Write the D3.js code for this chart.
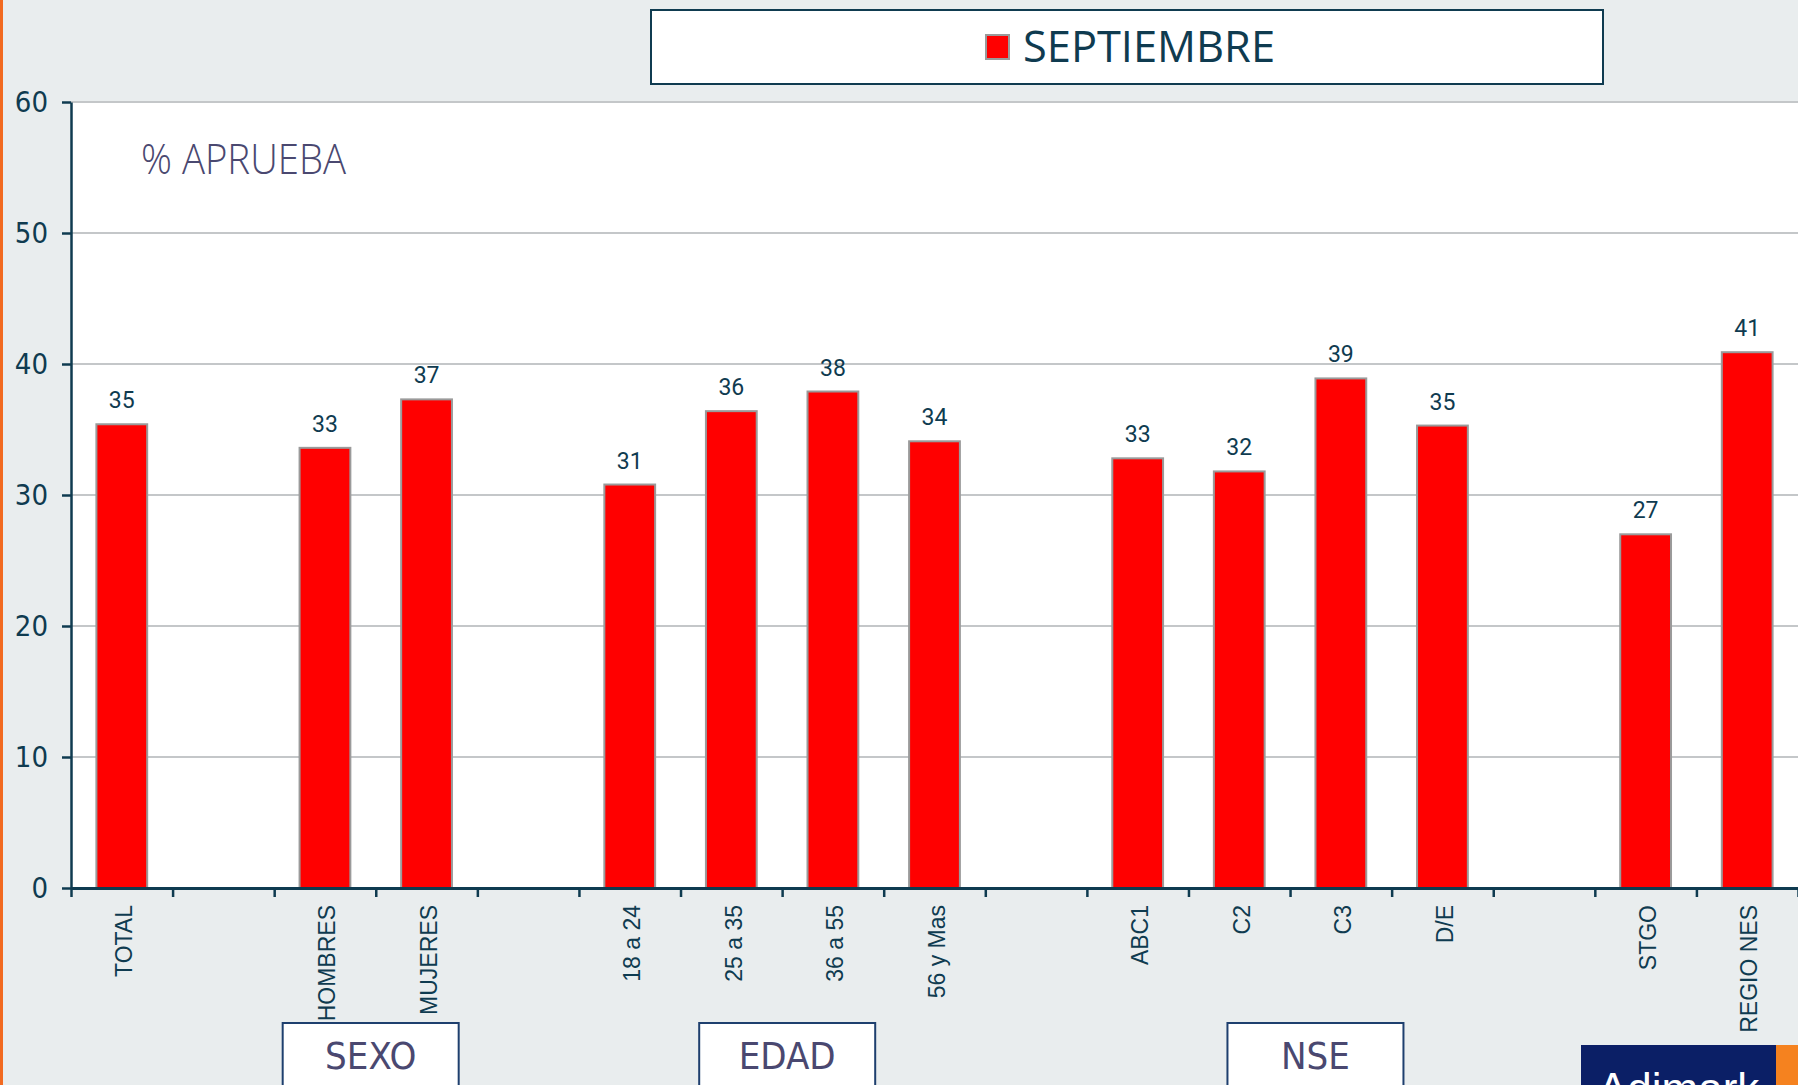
<!DOCTYPE html>
<html>
<head>
<meta charset="utf-8">
<script src="https://cdn.jsdelivr.net/npm/d3@7"></script>
<style>
  body { margin: 0; background: #e9edee; overflow: hidden; }
  svg { display: block; }
</style>
</head>
<body>
<div id="chart"></div>
<script>
// categories, blanks are spacer slots between groups
var categories = ["TOTAL", "", "HOMBRES", "MUJERES", "", "18 a 24", "25 a 35", "36 a 55", "56 y Mas", "",
  "ABC1", "C2", "C3", "D/E", "", "STGO", "REGIO NES"];
var values = [35.4, null, 33.6, 37.3, null, 30.8, 36.4, 37.9, 34.1, null,
  32.8, 31.8, 38.9, 35.3, null, 27.0, 40.9];
var valueLabels = ["35", "", "33", "37", "", "31", "36", "38", "34", "",
  "33", "32", "39", "35", "", "27", "41"];
var yTicks = [0, 10, 20, 30, 40, 50, 60];
var seriesName = "SEPTIEMBRE";
var groupNames = ["SEXO", "EDAD", "NSE"];
var groupCenters = [2.45, 6.55, 11.75]; // in slot units

const W = 1798, H = 1085;
var margin = { top: 102, right: 0, bottom: H - 888, left: 71 };
var navy = "#0f3b50";
var condensed = "'DejaVu Sans Condensed', 'DejaVu Sans', sans-serif";

var svg = d3.select("#chart").append("svg")
  .attr("width", W).attr("height", H);

// orange strip on the left
svg.append("rect").attr("x", 0).attr("y", 0).attr("width", 3).attr("height", H).attr("fill", "#f26a21");

var x = d3.scaleBand()
  .domain(d3.range(categories.length))
  .range([margin.left, W - margin.right])
  .paddingInner(0.5)
  .paddingOuter(0.25);

var slots = d3.scaleLinear()
  .domain([0, categories.length])
  .range([margin.left, W - margin.right]);

var y = d3.scaleLinear().domain([0, 60]).range([888, margin.top]);

// plot area
svg.append("rect")
  .attr("x", margin.left).attr("y", y(60))
  .attr("width", W - margin.right - margin.left).attr("height", y(0) - y(60))
  .attr("fill", "#ffffff");

// gridlines
svg.append("g").selectAll("line")
  .data(yTicks.filter(d => d > 0))
  .join("line")
  .attr("x1", margin.left).attr("x2", W)
  .attr("y1", d => y(d)).attr("y2", d => y(d))
  .attr("stroke", "#c4c7c9").attr("stroke-width", 2);

// bars
var idx = d3.range(categories.length).filter(i => values[i] != null);
svg.append("g").selectAll("rect")
  .data(idx)
  .join("rect")
  .attr("x", i => x(i))
  .attr("y", i => y(values[i]))
  .attr("width", x.bandwidth())
  .attr("height", i => y(0) - y(values[i]))
  .attr("fill", "#ff0000")
  .attr("stroke", "#9a9a9a")
  .attr("stroke-width", 2);

// value labels
svg.append("g").selectAll("text")
  .data(idx)
  .join("text")
  .attr("x", i => x(i) + x.bandwidth() / 2)
  .attr("y", i => y(values[i]) - 16)
  .attr("text-anchor", "middle")
  .style("font-family", "Roboto, sans-serif")
  .style("font-size", "23px")
  .style("fill", navy)
  .text(i => valueLabels[i]);

// y axis
var yAxis = svg.append("g")
  .attr("transform", "translate(" + margin.left + ",0)")
  .call(d3.axisLeft(y).tickValues(yTicks).tickSize(9).tickPadding(14).tickSizeOuter(0));
yAxis.select(".domain").attr("stroke", navy).attr("stroke-width", 2.5);
yAxis.selectAll(".tick line").attr("stroke", navy).attr("stroke-width", 2.5);
yAxis.selectAll(".tick text")
  .style("font-family", condensed)
  .style("font-size", "29px")
  .style("fill", navy);

// x axis: tick marks at slot boundaries
var xTickAxis = svg.append("g")
  .attr("transform", "translate(0," + y(0) + ")")
  .call(d3.axisBottom(slots).tickValues(d3.range(categories.length + 1)).tickFormat("").tickSize(9).tickSizeOuter(0));
xTickAxis.select(".domain").attr("stroke", navy).attr("stroke-width", 3);
xTickAxis.selectAll(".tick line").attr("stroke", navy).attr("stroke-width", 2.5);

// x axis: rotated category labels
var xAxis = svg.append("g")
  .attr("transform", "translate(0," + y(0) + ")")
  .call(d3.axisBottom(x).tickFormat(i => categories[i]).tickSize(0));
xAxis.select(".domain").remove();
xAxis.selectAll(".tick text")
  .attr("transform", "rotate(-90)")
  .attr("x", -17).attr("y", 2).attr("dy", "0.36em")
  .attr("text-anchor", "end")
  .style("font-family", "'Liberation Sans', Arial, sans-serif")
  .style("font-size", "23px")
  .style("fill", navy);

// % APRUEBA title
svg.append("text")
  .attr("x", 141).attr("y", 174)
  .attr("textLength", 205).attr("lengthAdjust", "spacingAndGlyphs")
  .style("font-family", "'Open Sans', sans-serif")
  .style("font-weight", 300)
  .style("font-size", "42px")
  .style("fill", "#4a4870")
  .text("% APRUEBA");

// legend
var legend = svg.append("g");
legend.append("rect")
  .attr("x", 651).attr("y", 10).attr("width", 952).attr("height", 74)
  .attr("fill", "#ffffff").attr("stroke", navy).attr("stroke-width", 2);
legend.append("rect")
  .attr("x", 986).attr("y", 35).attr("width", 23).attr("height", 24)
  .attr("fill", "#ff0000").attr("stroke", "#9a9a9a").attr("stroke-width", 2);
legend.append("text")
  .attr("x", 1023).attr("y", 62)
  .attr("textLength", 252).attr("lengthAdjust", "spacingAndGlyphs")
  .style("font-family", "'Open Sans', sans-serif")
  .style("font-size", "43px")
  .style("fill", navy)
  .text(seriesName);

// group boxes under the axis
var boxW = 176;
var groups = svg.append("g").selectAll("g")
  .data(groupNames)
  .join("g")
  .attr("transform", (d, i) => "translate(" + slots(groupCenters[i] + 0.5) + ",0)");
groups.append("rect")
  .attr("x", -boxW / 2).attr("y", 1023).attr("width", boxW).attr("height", 90)
  .attr("fill", "#ffffff").attr("stroke", "#1e3f6e").attr("stroke-width", 2);
groups.append("text")
  .attr("x", 0).attr("y", 1069)
  .attr("text-anchor", "middle")
  .style("font-family", condensed)
  .style("font-size", "38px")
  .style("fill", "#4a4870")
  .text(d => d);

// logo corner
svg.append("rect").attr("x", 1581).attr("y", 1045).attr("width", 195).attr("height", 60).attr("fill", "#0b1f66");
svg.append("rect").attr("x", 1776).attr("y", 1045).attr("width", 22).attr("height", 60).attr("fill", "#f5821f");
svg.append("text")
  .attr("x", 1598).attr("y", 1104)
  .style("font-family", "'Liberation Sans', Arial, sans-serif")
  .style("font-size", "44px")
  .style("fill", "#ffffff")
  .text("Adimark");
</script>
</body>
</html>
